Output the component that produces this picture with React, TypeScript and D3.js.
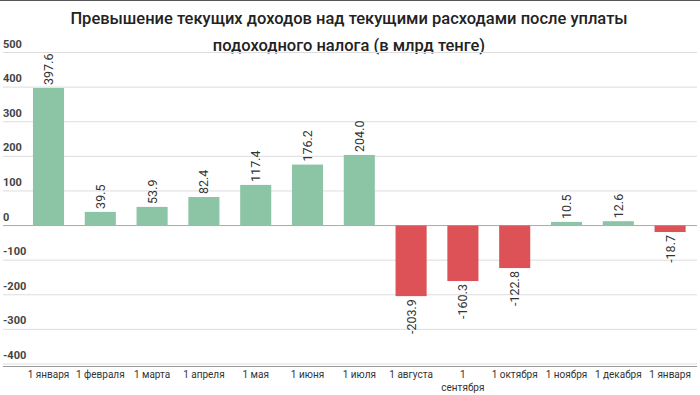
import { scaleBand, scaleLinear } from 'd3';

const categories = [
  '1 января', '1 февраля', '1 марта', '1 апреля', '1 мая', '1 июня', '1 июля',
  '1 августа', '1 сентября', '1 октября', '1 ноября', '1 декабря', '1 января',
];
const values = [397.6, 39.5, 53.9, 82.4, 117.4, 176.2, 204.0, -203.9, -160.3, -122.8, 10.5, 12.6, -18.7];
const yTicks = [500, 400, 300, 200, 100, 0, -100, -200, -300, -400];
const titleLines = [
  'Превышение текущих доходов над текущими расходами после уплаты',
  'подоходного налога (в млрд тенге)',
];

const W = 700;
const H = 395;
const POS = '#8cc5a6';
const NEG = '#dc5256';

export default function App() {
  const x = scaleBand<number>()
    .domain(categories.map((_, i) => i))
    .range([22.6, 696])
    .paddingInner(0.4)
    .paddingOuter(0.2);
  const y = scaleLinear().domain([-400, 500]).range([364, 52.5]);

  return (
    <div style={{ position: 'fixed', left: 0, top: 0 }}>
      <svg width={W} height={H} style={{ display: 'block', fontFamily: 'Roboto, sans-serif' }}>
        <rect width={W} height={H} fill="#fff" />
        <line x1={0} x2={W} y1={0.5} y2={0.5} stroke="#555" />
        {titleLines.map((t, i) => (
          <text key={i} x={W / 2 - 1} y={24 + i * 27} textAnchor="middle" fontSize={16.5} fontWeight={500} fill="#222">
            {t}
          </text>
        ))}
        {yTicks.map((t) => (
          <g key={t}>
            <line x1={3} x2={697} y1={y(t)} y2={y(t)} stroke={t === 0 ? '#aaa' : '#ddd'} strokeWidth={1} />
            <text x={3} y={y(t) - 5} fontSize={11} fontWeight={700} fill="#444">
              {t}
            </text>
          </g>
        ))}
        <line x1={3} x2={697} y1={366.5} y2={366.5} stroke="#999" />
        {values.map((v, i) => {
          const bx = x(i)!;
          const top = y(Math.max(0, v));
          const bottom = y(Math.min(0, v));
          const cx = bx + x.bandwidth() / 2;
          const ly = v >= 0 ? top - 3 : bottom + 3;
          return (
            <g key={i}>
              <rect x={bx} y={top} width={x.bandwidth()} height={bottom - top} fill={v >= 0 ? POS : NEG} />
              <text
                transform={`translate(${cx + 4.5},${ly}) rotate(-90)`}
                textAnchor={v >= 0 ? 'start' : 'end'}
                fontSize={12.5}
                fill="#333"
              >
                {v.toFixed(1)}
              </text>
            </g>
          );
        })}
        {categories.map((c, i) => {
          const cx = x(i)! + x.bandwidth() / 2;
          const parts = c === '1 сентября' ? ['1', 'сентября'] : [c];
          return (
            <text key={i} x={cx} y={378} textAnchor="middle" fontSize={10} fill="#333">
              {parts.map((p, j) => (
                <tspan key={j} x={cx} dy={j === 0 ? 0 : 12.5}>
                  {p}
                </tspan>
              ))}
            </text>
          );
        })}
      </svg>
    </div>
  );
}
